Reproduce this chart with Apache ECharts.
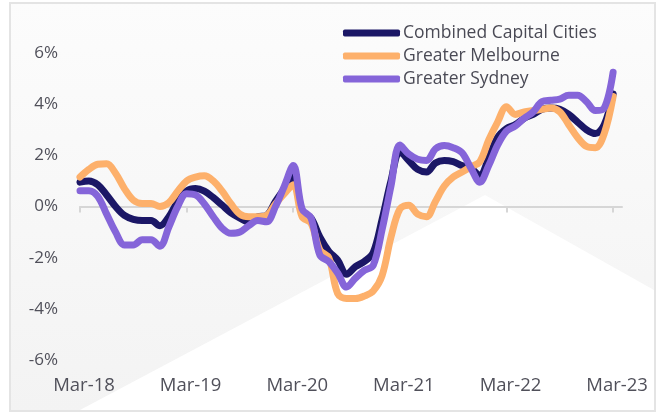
<!DOCTYPE html>
<html>
<head>
<meta charset="utf-8">
<script src="https://cdn.jsdelivr.net/npm/echarts@6/dist/echarts.min.js"></script>
<style>
  html, body { margin: 0; padding: 0; background: #ffffff; }
  #chart { width: 667px; height: 412px; }
</style>
</head>
<body>
<div id="chart"></div>
<script>
// monthly, Mar-18 .. Mar-23 (axis runs one month past the last point)
const months = ['Jan','Feb','Mar','Apr','May','Jun','Jul','Aug','Sep','Oct','Nov','Dec'];
const categories = [];
for (let y = 18, m = 2; categories.length < 62; m++) {
  if (m === 12) { m = 0; y++; }
  categories.push(months[m] + '-' + y);
}

const combined = [
  0.95, 1.0, 0.85, 0.45, 0.0, -0.35, -0.5, -0.55, -0.55, -0.75, -0.4, 0.2,
  0.6, 0.7, 0.6, 0.35, 0.05, -0.25, -0.45, -0.6, -0.4, -0.35, 0.2, 0.7,
  1.2, -0.2, -0.45, -1.2, -1.75, -2.1, -2.65, -2.35, -2.15, -1.8, -0.5, 1.0,
  2.15, 1.8, 1.45, 1.35, 1.7, 1.8, 1.75, 1.6, 1.5, 1.2, 1.9, 2.7,
  3.05, 3.2, 3.45, 3.6, 3.8, 3.85, 3.8, 3.6, 3.3, 3.0, 2.85, 3.2,
  4.4
];
const melbourne = [
  1.15, 1.45, 1.65, 1.67, 1.3, 0.7, 0.25, 0.12, 0.12, 0.0, 0.15, 0.6,
  1.0, 1.15, 1.2, 1.0, 0.6, 0.1, -0.3, -0.4, -0.4, -0.35, 0.1, 0.5,
  0.85, -0.4, -0.65, -1.7, -2.0, -3.4, -3.6, -3.6, -3.5, -3.3, -2.7, -1.2,
  -0.1, 0.05, -0.3, -0.4, 0.2, 0.8, 1.15, 1.35, 1.55, 1.75, 2.6, 3.3,
  3.9, 3.6, 3.7, 3.75, 3.8, 3.85, 3.7, 3.2, 2.7, 2.35, 2.3, 2.85,
  4.3
];
const sydney = [
  0.62, 0.62, 0.4, -0.3, -1.0, -1.5, -1.5, -1.3, -1.3, -1.55, -0.8, 0.0,
  0.5, 0.45, 0.1, -0.4, -0.85, -1.05, -1.0, -0.75, -0.55, -0.6, 0.0, 0.8,
  1.6, -0.1, -0.45, -1.9, -2.15, -2.6, -3.15, -2.8, -2.5, -2.3, -0.9, 0.8,
  2.4, 2.05, 1.85, 1.8, 2.25, 2.38, 2.3, 2.1, 1.5, 0.95, 1.6, 2.4,
  2.95, 3.15, 3.45, 3.7, 4.1, 4.15, 4.2, 4.35, 4.35, 4.1, 3.75, 3.85,
  5.25
];

const seriesNames = ['Combined Capital Cities', 'Greater Melbourne', 'Greater Sydney'];
const seriesColors = ['#1b1766', '#fdb06b', '#8565d9'];
const seriesData = [combined, melbourne, sydney];

const font = '"Open Sans", sans-serif';
const isMarch = (i) => i % 12 === 0;

const chart = echarts.init(document.getElementById('chart'));
chart.setOption({
  animation: false,
  backgroundColor: '#ffffff',
  graphic: [
    { type: 'rect', z: -10, shape: { x: 10, y: 3, width: 645, height: 408 },
      style: {
        fill: new echarts.graphic.LinearGradient(0, 0, 0, 1, [
          { offset: 0, color: '#fcfcfc' },
          { offset: 1, color: '#f3f3f3' }
        ]),
        stroke: '#e4e4e4', lineWidth: 2
      } },
    { type: 'polygon', z: -8, shape: { points: [[80, 410], [485, 195], [654, 290], [654, 410]] },
      style: { fill: '#ffffff' } }
  ],
  legend: {
    data: seriesNames,
    orient: 'vertical',
    left: 338,
    top: 19,
    itemWidth: 57,
    itemHeight: 7,
    itemGap: 5,
    icon: 'roundRect',
    textStyle: { fontFamily: font, fontSize: 17.5, color: '#4a4a55', padding: [0, 0, 0, -2] }
  },
  grid: { left: 80, right: 45, top: 53, bottom: 52 },
  xAxis: [
    {
      type: 'category',
      data: categories,
      boundaryGap: false,
      position: 'bottom',
      axisLine: { show: false, onZero: false },
      axisTick: { show: false },
      axisLabel: {
        interval: (i) => isMarch(i),
        margin: 16,
        padding: [0, 0, 0, 8],
        fontFamily: font,
        fontSize: 18.5,
        color: '#50505a'
      }
    },
    {
      type: 'category',
      data: categories,
      boundaryGap: false,
      position: 'bottom',
      axisLine: { show: true, onZero: true, lineStyle: { color: '#d6d6d6', width: 2 } },
      axisTick: { show: true, interval: (i) => isMarch(i), length: 6, lineStyle: { color: '#d6d6d6', width: 2 } },
      axisLabel: { show: false }
    }
  ],
  yAxis: {
    type: 'value',
    min: -6,
    max: 6,
    interval: 2,
    axisLine: { show: false },
    axisTick: { show: false },
    splitLine: { show: false },
    axisLabel: {
      formatter: (v) => v + '%',
      margin: 22,
      fontFamily: font,
      fontSize: 17,
      color: '#50505a'
    }
  },
  series: seriesNames.map((name, k) => ({
    name: name,
    type: 'line',
    xAxisIndex: 0,
    data: seriesData[k],
    smooth: 0.35,
    showSymbol: false,
    symbol: 'none',
    lineStyle: { width: 7, color: seriesColors[k], cap: 'round', join: 'round' },
    itemStyle: { color: seriesColors[k] }
  }))
});
</script>
</body>
</html>
